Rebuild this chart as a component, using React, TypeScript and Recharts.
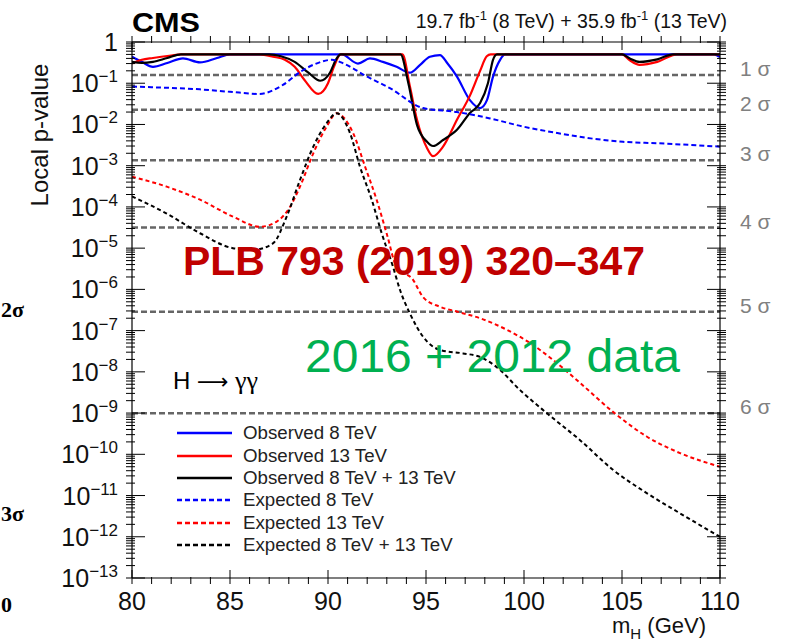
import React from 'react';
import { LineChart, Line, XAxis, YAxis, ReferenceLine, Legend } from 'recharts';

// mass (GeV), local p-value
const obs8: [number, number][] = [
  [80, 0.44], [80.5, 0.33], [81.07, 0.25], [81.8, 0.31], [82.6, 0.4], [83.47, 0.32], [84.34, 0.41], [85.0, 0.5],
  [90.7, 0.5], [91.53, 0.3], [92.14, 0.4], [92.8, 0.33], [93.5, 0.25], [94.18, 0.18], [94.7, 0.28], [95.2, 0.44],
  [95.71, 0.48], [96.1, 0.3], [96.58, 0.145], [97.24, 0.039], [97.76, 0.025], [98.11, 0.039], [98.42, 0.145],
  [98.78, 0.37], [99.03, 0.5], [105.05, 0.5], [109.7, 0.5], [110, 0.43],
];
const obs13: [number, number][] = [
  [80, 0.3], [80.5, 0.37], [81.07, 0.41], [82.0, 0.47], [82.5, 0.5], [86.5, 0.5], [87.2, 0.44], [87.8, 0.37],
  [88.3, 0.25], [88.8, 0.12], [89.5, 0.055], [90.0, 0.1], [90.3, 0.25], [90.65, 0.5], [93.8, 0.5], [94.18, 0.083],
  [94.54, 0.013], [95.05, 2.7e-3], [95.36, 1.7e-3], [95.87, 2.9e-3], [96.58, 0.013], [97.24, 0.05], [97.76, 0.2],
  [98.1, 0.45], [98.3, 0.5], [105.0, 0.5], [105.4, 0.36], [105.9, 0.28], [106.8, 0.33], [107.8, 0.5], [110, 0.5],
];
const obsComb: [number, number][] = [
  [80, 0.33], [80.5, 0.31], [81.07, 0.33], [81.8, 0.41], [82.5, 0.5], [87.0, 0.5], [87.6, 0.45], [88.3, 0.33],
  [89.0, 0.18], [89.6, 0.115], [90.1, 0.18], [90.4, 0.37], [90.65, 0.5], [93.7, 0.5], [94.1, 0.1], [94.54, 9.8e-3],
  [95.05, 3.8e-3], [95.36, 3.0e-3], [95.87, 4.2e-3], [96.58, 7.4e-3], [97.24, 0.019], [97.76, 0.033], [98.16, 0.1],
  [98.42, 0.37], [98.62, 0.5], [105.0, 0.5], [105.4, 0.4], [105.9, 0.33], [106.8, 0.38], [107.6, 0.5], [110, 0.5],
];
const exp8: [number, number][] = [
  [80, 0.083], [81.0, 0.08], [83.47, 0.071], [85.0, 0.062], [86.5, 0.055], [87.7, 0.091], [88.6, 0.19], [89.4, 0.3],
  [90.2, 0.37], [90.8, 0.3], [92.0, 0.144], [93.16, 0.076], [94.85, 0.025], [96.58, 0.02], [98.27, 0.014],
  [99.95, 0.0089], [101.7, 0.0062], [103.4, 0.0046], [105.05, 0.0038], [106.8, 0.0035], [110, 0.0029],
];
const exp13: [number, number][] = [
  [80, 5.4e-4], [81.77, 3.1e-4], [83.47, 1.5e-4], [85.15, 5.8e-5], [86.53, 3.3e-5], [87.38, 4.4e-5], [88.06, 1.0e-4],
  [88.57, 3.1e-4], [89.25, 2.0e-3], [89.93, 8.9e-3], [90.44, 0.0186], [91.28, 6.2e-3], [91.89, 9.5e-4],
  [92.48, 1.5e-4], [92.99, 2.3e-5], [93.5, 3.5e-6], [94.34, 1.7e-6], [94.85, 6.5e-7], [95.71, 3.8e-7],
  [96.57, 2.9e-7], [97.76, 2.0e-7], [99.12, 1.05e-7], [100.31, 5.0e-8], [101.48, 1.95e-8], [102.86, 5.4e-9],
  [104.54, 1.07e-9], [106.26, 2.7e-10], [107.96, 1.07e-10], [110, 5.0e-11],
];
const expComb: [number, number][] = [
  [80, 1.8e-4], [81.77, 6.9e-5], [83.47, 2.3e-5], [85.15, 1.0e-5], [86.17, 9.1e-6], [87.19, 1.3e-5], [87.89, 5.8e-5],
  [88.57, 4.5e-4], [89.25, 2.9e-3], [89.93, 0.0107], [90.44, 0.0186], [91.12, 6.2e-3], [91.63, 9.5e-4],
  [92.23, 1.5e-4], [92.74, 2.3e-5], [93.32, 3.5e-6], [93.67, 9.8e-7], [94.18, 2.6e-7], [94.85, 7.1e-8],
  [95.71, 3.4e-8], [96.89, 2.8e-8], [97.76, 2.3e-8], [98.61, 1.3e-8], [99.8, 3.6e-9], [101.16, 1.0e-9],
  [102.86, 2.2e-10], [104.54, 4.2e-11], [106.26, 1.15e-11], [107.96, 3.7e-12], [110, 1.0e-12],
];

const sigmaLevels = [0.158655, 0.02275, 1.3499e-3, 3.1671e-5, 2.8665e-7, 9.8659e-10];
const sigmaLabels = ['1 σ', '2 σ', '3 σ', '4 σ', '5 σ', '6 σ'];

const xTicks = Array.from({ length: 31 }, (_, i) => 80 + i);
const yTicks: number[] = [1];
for (let e = 1; e <= 13; e++) {
  for (let k = 9; k >= 2; k--) yTicks.push(k * Math.pow(10, -e));
  yTicks.push(Math.pow(10, -e));
}

const series = [
  { key: 'obs8', name: 'Observed 8 TeV', color: '#0000ff', dash: undefined, width: 2.2, data: obs8 },
  { key: 'obs13', name: 'Observed 13 TeV', color: '#ff0000', dash: undefined, width: 2.2, data: obs13 },
  { key: 'obsComb', name: 'Observed 8 TeV + 13 TeV', color: '#000000', dash: undefined, width: 2.2, data: obsComb },
  { key: 'exp8', name: 'Expected 8 TeV', color: '#0000ff', dash: '5 3', width: 2, data: exp8 },
  { key: 'exp13', name: 'Expected 13 TeV', color: '#ff0000', dash: '4 3', width: 2, data: exp13 },
  { key: 'expComb', name: 'Expected 8 TeV + 13 TeV', color: '#000000', dash: '4 3', width: 2, data: expComb },
];

const FONT = '"Liberation Sans", Arial, Helvetica, sans-serif';
const SERIF = '"Liberation Serif", "Times New Roman", serif';

const isDecade = (v: number) => Math.abs(Math.log10(v) - Math.round(Math.log10(v))) < 1e-6;

const YTick = ({ x, y, payload, side }: any) => {
  const v = payload.value;
  const major = isDecade(v);
  const len = major ? 19 : 9;
  const dir = side === 'left' ? 1 : -1;
  const exp = Math.round(Math.log10(v));
  return (
    <g>
      <line x1={x} x2={x + dir * len} y1={y} y2={y} stroke="#000" strokeWidth={1} />
      {side === 'left' && major && (
        <text x={x - 8} y={y + 9} textAnchor="end" fontFamily={FONT} fontSize={25} fill="#111">
          {exp === 0 ? '1' : '10'}
          {exp !== 0 && <tspan dy={-10} fontSize={17}>{'−' + Math.abs(exp)}</tspan>}
        </text>
      )}
    </g>
  );
};

const XTick = ({ x, y, payload, side }: any) => {
  const v = payload.value;
  const major = v % 5 === 0;
  const len = major ? 14 : 7;
  const dir = side === 'bottom' ? -1 : 1;
  return (
    <g>
      <line x1={x} x2={x} y1={y} y2={y + dir * len} stroke="#000" strokeWidth={1} />
      {side === 'bottom' && major && (
        <text x={x} y={y + 26} textAnchor="middle" fontFamily={FONT} fontSize={25} fill="#111">
          {v}
        </text>
      )}
    </g>
  );
};

const SigmaLabel = ({ viewBox, text }: any) => {
  if (!viewBox) return null;
  return (
    <text x={viewBox.x + viewBox.width + 20} y={viewBox.y + 1} fontFamily={FONT} fontSize={21} fill="#808080">
      {text}
    </text>
  );
};

const renderLegend = () => (
  <div style={{ fontFamily: FONT, fontSize: 18.7, color: '#222' }}>
    {series.map((s) => (
      <div key={s.key} style={{ display: 'flex', alignItems: 'center', height: 22.4 }}>
        <svg width={71} height={10} style={{ flex: 'none' }}>
          <line x1={5} x2={60} y1={5} y2={5} stroke={s.color} strokeWidth={s.dash ? 2.4 : 2.6} strokeDasharray={s.dash ? '5 3' : undefined} />
        </svg>
        <span style={{ whiteSpace: 'nowrap' }}>{s.name}</span>
      </div>
    ))}
  </div>
);

export default function App() {
  return (
    <div style={{ position: 'absolute', left: 0, top: 0, width: 786, height: 641, background: '#fff', overflow: 'hidden' }}>
      <LineChart width={786} height={641} margin={{ top: 12, right: 6, bottom: 3, left: 0 }}>
        <XAxis xAxisId="b" type="number" dataKey="m" domain={[80, 110]} ticks={xTicks} interval={0} height={60}
          allowDataOverflow tickLine={false} tickMargin={0} axisLine={{ stroke: '#000', strokeWidth: 1.2 }}
          tick={(p: any) => <XTick {...p} side="bottom" />} />
        <XAxis xAxisId="t" orientation="top" type="number" dataKey="m" domain={[80, 110]} ticks={xTicks} interval={0}
          height={30} allowDataOverflow tickLine={false} tickMargin={0} axisLine={{ stroke: '#000', strokeWidth: 1.2 }}
          tick={(p: any) => <XTick {...p} side="top" />} />
        <YAxis yAxisId="l" type="number" scale="log" domain={[1e-13, 1]} ticks={yTicks} interval={0} width={132}
          allowDataOverflow tickLine={false} tickMargin={0} axisLine={{ stroke: '#000', strokeWidth: 1.2 }}
          tick={(p: any) => <YTick {...p} side="left" />} />
        <YAxis yAxisId="r" orientation="right" type="number" scale="log" domain={[1e-13, 1]} ticks={yTicks} interval={0}
          width={60} allowDataOverflow tickLine={false} tickMargin={0} axisLine={{ stroke: '#000', strokeWidth: 1.2 }}
          tick={(p: any) => <YTick {...p} side="right" />} />
        {sigmaLevels.map((p, i) => (
          <ReferenceLine key={i} xAxisId="b" yAxisId="l" y={p} stroke="#666" strokeWidth={2.6} strokeDasharray="6 3"
            label={<SigmaLabel text={sigmaLabels[i]} />} />
        ))}
        {series.map((s) => (
          <Line key={s.key} xAxisId="b" yAxisId="l" name={s.name}
            data={s.data.map(([m, p]) => ({ m, p }))} dataKey="p" type="monotone"
            stroke={s.color} strokeWidth={s.width} strokeDasharray={s.dash} dot={false}
            isAnimationActive={false} />
        ))}
        <Legend content={renderLegend} layout="vertical" align="center" verticalAlign="middle"
          wrapperStyle={{ left: 172, top: 422, width: 330 }} />
      </LineChart>
      <svg width={786} height={641} style={{ position: 'absolute', left: 0, top: 0, pointerEvents: 'none' }}>
        <text x={132} y={32} fontFamily={FONT} fontWeight="bold" fontSize={27} textLength={68} lengthAdjust="spacingAndGlyphs">CMS</text>
        <text x={727} y={28} textAnchor="end" fontFamily={FONT} fontSize={19.5} fill="#111">
          19.7 fb<tspan dy={-8} fontSize={13}>-1</tspan><tspan dy={8}> (8 TeV) + 35.9 fb</tspan>
          <tspan dy={-8} fontSize={13}>-1</tspan><tspan dy={8}> (13 TeV)</tspan>
        </text>
        <text transform="translate(48,135) rotate(-90)" textAnchor="middle" fontFamily={FONT} fontSize={24} fill="#111">Local p-value</text>
        <text x={706} y={633} textAnchor="end" fontFamily={FONT} fontSize={22} fill="#111">
          m<tspan dy={6} fontSize={15}>H</tspan><tspan dy={-6}> (GeV)</tspan>
        </text>
        <text x={173} y={389} fontFamily={FONT} fontSize={24} fill="#000">
          {'H '}<tspan fontFamily='"DejaVu Sans", sans-serif' fontSize={22}>⟶</tspan><tspan fontFamily={SERIF} fontSize={26}>{' γγ'}</tspan>
        </text>
        <text x={183} y={275} fontFamily={FONT} fontWeight="bold" fontSize={40} fill="#c00000" textLength={462} lengthAdjust="spacingAndGlyphs">PLB 793 (2019) 320–347</text>
        <text x={305} y={372} fontFamily={FONT} fontSize={47} fill="#00b050" textLength={375} lengthAdjust="spacingAndGlyphs">2016 + 2012 data</text>
        <text x={1} y={317} fontFamily={SERIF} fontWeight="bold" fontSize={22} fill="#000">2σ</text>
        <text x={1} y={521} fontFamily={SERIF} fontWeight="bold" fontSize={22} fill="#000">3σ</text>
        <text x={1} y={612} fontFamily={SERIF} fontWeight="bold" fontSize={22} fill="#000">0</text>
      </svg>
    </div>
  );
}
